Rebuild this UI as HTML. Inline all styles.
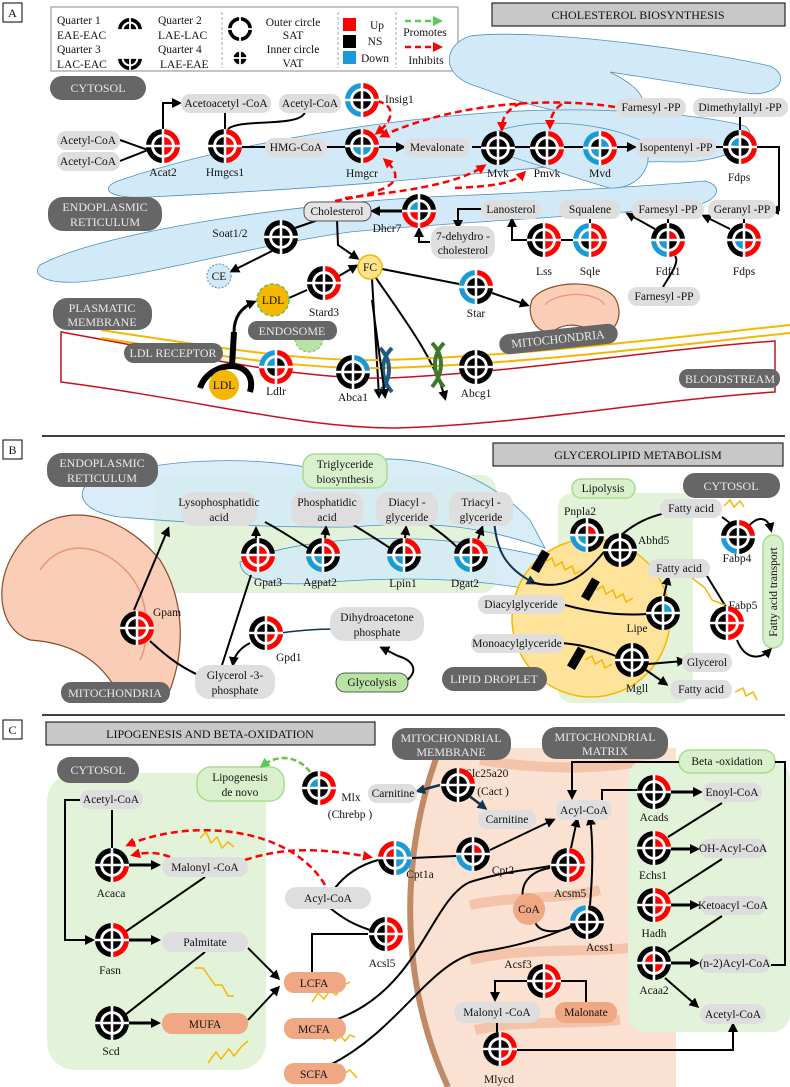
<!DOCTYPE html>
<html><head><meta charset="utf-8"><style>
body{margin:0;background:#fff}
svg{display:block}
text{font-family:"Liberation Serif",serif;font-size:11.5px;fill:#111}
.c{text-anchor:middle}
.d{fill:#eaeaea;font-size:12px;text-anchor:middle}
.p{fill:#dedede}
.dk{fill:#666}
.gp{fill:#d9f0cc;stroke:#a8dc8f;stroke-width:1.5}
.or{fill:#f0a884}
.ln{fill:none;stroke:#000;stroke-width:2}
.ar{marker-end:url(#a)}
.rd{fill:none;stroke:#f00;stroke-width:2.5;stroke-dasharray:7 4;marker-end:url(#ar)}
.zz{fill:none;stroke:#f5b800;stroke-width:1.5}
.er{fill:#d2eaf7;stroke:#4f8fc0;stroke-width:0.8}
</style></head><body>
<svg width="790" height="1087" viewBox="0 0 790 1087" xmlns="http://www.w3.org/2000/svg">
<defs>
<marker id="a" markerWidth="10" markerHeight="10" refX="7" refY="5" orient="auto" markerUnits="userSpaceOnUse"><path d="M0,0 L10,5 L0,10 Z" fill="#000"/></marker>
<marker id="ar" markerWidth="10" markerHeight="10" refX="7" refY="5" orient="auto" markerUnits="userSpaceOnUse"><path d="M0,0 L10,5 L0,10 Z" fill="#f00"/></marker>
<marker id="ag" markerWidth="10" markerHeight="10" refX="7" refY="5" orient="auto" markerUnits="userSpaceOnUse"><path d="M0,0 L10,5 L0,10 Z" fill="#5c5"/></marker>
<marker id="an" markerWidth="10" markerHeight="10" refX="7" refY="5" orient="auto" markerUnits="userSpaceOnUse"><path d="M0,0 L10,5 L0,10 Z" fill="#13344f"/></marker>
</defs>

<!-- ===== SECTION A ===== -->
<rect x="3" y="3" width="19" height="19" fill="#fff" stroke="#000"/><text x="12.5" y="17" class="c" style="font-size:12px">A</text>
<rect x="51" y="7" width="407" height="64" fill="#fff" stroke="#888"/>
<text x="57" y="24">Quarter 1</text><text x="57" y="39">EAE-EAC</text><text x="57" y="53">Quarter 3</text><text x="57" y="68">LAC-EAC</text>
<text x="158" y="24">Quarter 2</text><text x="158" y="39">LAE-LAC</text><text x="158" y="53">Quarter 4</text><text x="160" y="68">LAE-EAE</text>
<line x1="222" y1="12" x2="222" y2="68" stroke="#aaa" stroke-dasharray="3 2"/>
<text x="293" y="26" class="c">Outer circle</text><text x="293" y="39" class="c">SAT</text><text x="293" y="53" class="c">Inner circle</text><text x="293" y="67" class="c">VAT</text>
<line x1="338" y1="12" x2="338" y2="68" stroke="#aaa" stroke-dasharray="3 2"/>
<rect x="343" y="18" width="13" height="13" fill="#f00"/><rect x="343" y="35" width="13" height="13" fill="#000"/><rect x="343" y="51" width="13" height="13" fill="#1a9ad6"/>
<text x="377" y="29" class="c">Up</text><text x="375" y="45" class="c">NS</text><text x="375" y="62" class="c">Down</text>
<line x1="396" y1="12" x2="396" y2="68" stroke="#aaa" stroke-dasharray="3 2"/>
<path d="M405,21 L440,21" stroke="#5c5" stroke-width="2.5" stroke-dasharray="6 4" marker-end="url(#ag)" fill="none"/>
<text x="425" y="36" class="c">Promotes</text>
<path d="M405,47 L440,47" stroke="#f00" stroke-width="2.5" stroke-dasharray="6 4" marker-end="url(#ar)" fill="none"/>
<text x="426" y="64" class="c">Inhibits</text>
<rect x="492" y="3" width="293" height="23" fill="#c8c8c8" stroke="#000"/>
<text x="638" y="19" class="c" style="font-size:12px">CHOLESTEROL BIOSYNTHESIS</text>

<!-- ER shapes A -->
<path class="er" d="M470,36 C530,28 690,48 770,66 C792,76 778,98 745,93 L610,72 C650,92 655,112 615,116 C560,118 515,100 470,84 C440,72 445,44 470,36Z"/>
<path class="er" d="M115,182 C200,152 350,122 500,112 C600,106 700,114 745,126 C765,142 725,162 680,162 C600,160 520,170 450,176 C350,186 250,192 150,197 C110,199 100,190 115,182Z"/>
<path class="er" d="M40,265 C100,232 300,202 450,196 C550,192 650,186 705,181 C725,186 718,202 692,206 C600,216 450,222 350,232 C250,246 150,276 80,282 C42,284 32,274 40,265Z"/>
<path class="er" d="M500,130 C540,118 600,122 640,140 C660,160 640,190 610,188 C580,180 540,165 505,155 C490,148 490,135 500,130Z"/>

<rect x="50" y="76" width="96" height="24" rx="12" class="dk"/><text x="98" y="92" class="d">CYTOSOL</text>
<rect x="48" y="197" width="114" height="34" rx="15" class="dk"/><text x="105" y="211" class="d">ENDOPLASMIC</text><text x="105" y="226" class="d">RETICULUM</text>

<!-- A connectors -->
<path class="ln" d="M120,140 L148,150 M120,161 L148,150"/>
<path class="ln ar" d="M163,129 L163,103 L179,103"/>
<path class="ln" d="M225,129 L225,112 M305,112 C300,128 240,118 228,129"/>
<path class="ln" d="M242,147 L345,147"/>
<path class="ln ar" d="M379,147 L403,147"/>
<path class="ln ar" d="M472,147 L634,147"/>
<path class="ln" d="M716,147 L723,147 M740,117 L740,130"/>
<path class="ln ar" d="M757,147 L779,147 L779,210 L772,210"/>
<path class="ln" d="M744,219 L744,223 M668,219 L668,223 M590,219 L590,223 M573,240 L561,240"/>
<path class="ln ar" d="M730,229 L704,216"/>
<path class="ln ar" d="M655,229 L628,214"/>
<path class="ln" d="M663,287 C670,275 680,262 675,256"/>
<path class="ln ar" d="M527,240 L512,240 L512,220"/>
<path class="ln ar" d="M482,209 L458,209 L458,227"/>
<path class="ln ar" d="M430,242 L419,242 L419,230"/>
<path class="ln ar" d="M402,211 L373,211" style="stroke-width:3"/>
<path class="ln" d="M318,220 L295,228"/>
<path class="ln ar" d="M272,251 L232,271"/>
<path class="ln ar" d="M337,220 L338,245 L357,258"/>
<path class="ln ar" d="M339,276 L356,266"/>
<path class="ln" d="M289,298 L307,290"/>
<path class="ln" d="M382,269 L459,284"/>
<path class="ln ar" d="M492,293 L527,305"/>
<path class="ln ar" d="M372,279 L379,396"/>
<path class="ln ar" d="M376,278 C405,320 435,360 445,398"/>
<path class="rd" d="M377,101 C398,106 392,122 377,133"/>
<path class="rd" d="M615,107 C560,98 460,100 382,136"/>
<path class="rd" d="M521,103 C506,110 502,118 502,129"/>
<path class="rd" d="M562,104 C553,110 550,118 550,127"/>
<path class="rd" d="M335,201 C400,190 405,178 385,160"/>
<path class="rd" d="M345,198 C420,190 460,182 484,166"/>
<path class="rd" d="M455,188 C500,186 515,182 524,173"/>

<!-- A pills -->
<rect x="57" y="131" width="63" height="19" rx="9" class="p"/><text x="88" y="144" class="c">Acetyl-CoA</text>
<rect x="57" y="152" width="63" height="19" rx="9" class="p"/><text x="88" y="165" class="c">Acetyl-CoA</text>
<rect x="181" y="94" width="90" height="19" rx="9" class="p"/><text x="226" y="107" class="c">Acetoacetyl -CoA</text>
<rect x="279" y="94" width="62" height="19" rx="9" class="p"/><text x="310" y="107" class="c">Acetyl-CoA</text>
<rect x="265" y="138" width="62" height="19" rx="9" class="p"/><text x="296" y="151" class="c">HMG-CoA</text>
<rect x="404" y="138" width="66" height="19" rx="9" class="p"/><text x="437" y="151" class="c">Mevalonate</text>
<rect x="616" y="98" width="70" height="19" rx="9" class="p"/><text x="651" y="111" class="c">Farnesyl -PP</text>
<rect x="693" y="98" width="95" height="19" rx="9" class="p"/><text x="740" y="111" class="c">Dimethylallyl -PP</text>
<rect x="636" y="138" width="80" height="19" rx="9" class="p"/><text x="676" y="151" class="c">Isopentenyl -PP</text>
<rect x="304" y="202" width="67" height="19" rx="8" fill="#e4e4e4" stroke="#555"/><text x="337" y="215" class="c">Cholesterol</text>
<rect x="481" y="200" width="60" height="19" rx="9" class="p"/><text x="511" y="213" class="c">Lanosterol</text>
<rect x="559" y="200" width="62" height="19" rx="9" class="p"/><text x="590" y="213" class="c">Squalene</text>
<rect x="632" y="200" width="72" height="19" rx="9" class="p"/><text x="668" y="213" class="c">Farnesyl -PP</text>
<rect x="708" y="200" width="68" height="19" rx="9" class="p"/><text x="742" y="213" class="c">Geranyl -PP</text>
<rect x="431" y="226" width="64" height="33" rx="12" class="p"/><text x="463" y="240" class="c">7-dehydro -</text><text x="463" y="254" class="c">cholesterol</text>
<rect x="628" y="287" width="72" height="19" rx="9" class="p"/><text x="664" y="300" class="c">Farnesyl -PP</text>
<circle cx="219" cy="276" r="12" fill="#d2eaf7" stroke="#4f8fc0" stroke-dasharray="2 1.5"/><text x="219" y="280" class="c">CE</text>
<circle cx="370" cy="267" r="12" fill="#ffe48a" stroke="#f5b800" stroke-width="1.5"/><text x="370" y="271" class="c">FC</text>

<!-- Mitochondrion A -->
<path d="M532,300 C545,280 600,278 615,298 C625,315 615,335 600,332 C585,328 570,320 555,330 C540,338 525,318 532,300Z" fill="#f9cdb6" stroke="#8b4a2a" stroke-width="1.2"/>
<path d="M545,305 C555,292 595,290 605,305" fill="none" stroke="#e8957a" stroke-width="1.2"/>

<!-- Membrane -->
<path d="M61,332 C200,357 300,380 390,378 C520,372 650,350 775,341 L775,392 C650,400 520,425 395,428 C300,428 200,400 61,382 Z" fill="none" stroke="#c8101c" stroke-width="1.5"/>
<path d="M101,330 C200,345 300,362 385,360 C520,356 650,340 790,325" fill="none" stroke="#f5b800" stroke-width="2"/>
<path d="M101,338 C200,353 300,370 385,368 C520,364 650,348 790,333" fill="none" stroke="#f5b800" stroke-width="2"/>
<!-- channels -->
<path d="M380,348 C392,360 392,378 380,392 M392,348 C380,360 380,378 392,392" stroke="#1f5a80" stroke-width="4" fill="none"/>
<path d="M432,343 C444,355 444,373 432,387 M444,343 C432,355 432,373 444,387" stroke="#3b7a2a" stroke-width="4" fill="none"/>
<path class="ln ar" d="M372,300 L385,396"/>

<!-- LDL -->
<circle cx="309" cy="338" r="14" fill="#b8e3a4" stroke="#6cc04a" stroke-dasharray="3 2"/>
<circle cx="273" cy="300" r="16" fill="#f5b800" stroke="#6cc04a" stroke-width="1.5" stroke-dasharray="4 2"/><text x="273" y="304" class="c">LDL</text>
<path d="M200,388 C205,372 222,366 232,366 C242,366 255,374 250,392" fill="none" stroke="#000" stroke-width="6"/>
<path d="M232,366 L234,332" stroke="#000" stroke-width="6"/>
<path class="ln ar" d="M234,332 C234,318 240,308 254,302" style="stroke-width:3"/>
<circle cx="224" cy="385" r="15" fill="#f5b800"/><text x="224" y="389" class="c">LDL</text>

<rect x="53" y="298" width="99" height="32" rx="14" class="dk"/><text x="102" y="312" class="d">PLASMATIC</text><text x="102" y="326" class="d">MEMBRANE</text>
<rect x="248" y="321" width="89" height="19" rx="9" class="dk"/><text x="292" y="335" class="d">ENDOSOME</text>
<rect x="124" y="343" width="99" height="20" rx="10" class="dk"/><text x="173" y="357" class="d">LDL RECEPTOR</text>
<g transform="rotate(-6 558 339)"><rect x="499" y="329" width="119" height="20" rx="10" class="dk"/><text x="558" y="343" class="d">MITOCHONDRIA</text></g>
<rect x="679" y="369" width="101" height="19" rx="9" class="dk"/><text x="730" y="383" class="d">BLOODSTREAM</text>

<!-- A labels -->
<text x="163" y="176" class="c">Acat2</text><text x="225" y="176" class="c">Hmgcs1</text><text x="362" y="177" class="c">Hmgcr</text>
<text x="385" y="103">Insig1</text>
<text x="498" y="177" class="c">Mvk</text><text x="547" y="177" class="c">Pmvk</text><text x="600" y="177" class="c">Mvd</text><text x="739" y="181" class="c">Fdps</text>
<text x="387" y="232" class="c">Dhcr7</text><text x="230" y="237" class="c">Soat1/2</text>
<text x="544" y="275" class="c">Lss</text><text x="590" y="275" class="c">Sqle</text><text x="668" y="275" class="c">Fdft1</text><text x="744" y="275" class="c">Fdps</text>
<text x="324" y="316" class="c">Stard3</text><text x="476" y="317" class="c">Star</text>
<text x="276" y="395" class="c">Ldlr</text><text x="353" y="401" class="c">Abca1</text><text x="476" y="397" class="c">Abcg1</text>

<line x1="42" y1="436" x2="785" y2="436" stroke="#000" stroke-width="1.5"/>

<!-- ===== SECTION B ===== -->
<rect x="3" y="440" width="19" height="19" fill="#fff" stroke="#000"/><text x="12.5" y="454" class="c" style="font-size:12px">B</text>
<rect x="493" y="443" width="290" height="23" fill="#c8c8c8" stroke="#000"/>
<text x="638" y="459" class="c" style="font-size:12px">GLYCEROLIPID METABOLISM</text>
<rect x="154" y="475" width="342" height="118" rx="14" fill="#e3f3da"/>
<rect x="558" y="493" width="135" height="210" rx="14" fill="#e3f3da"/>
<path class="er" d="M90,482 C160,456 260,456 320,470 C380,448 470,456 530,520 L545,548 C470,522 420,522 350,527 C260,528 180,522 120,517 C80,512 75,492 90,482Z" style="fill-opacity:0.85"/>
<path class="er" d="M240,562 C300,537 420,527 545,557 L545,592 C470,577 400,577 330,582 C280,587 240,582 240,562Z" style="fill-opacity:0.85"/>
<path d="M10,560 C40,500 110,500 160,560 C185,600 185,650 170,690 C160,708 125,702 110,680 C90,652 60,642 30,640 C0,630 -5,590 10,560Z" fill="#f9cdb6" stroke="#8b4a2a" stroke-width="1.2"/>
<path d="M40,570 C60,540 100,540 130,575 C150,600 150,640 140,660" fill="none" stroke="#e8957a" stroke-width="1.5"/>
<circle cx="591" cy="618" r="79" fill="#ffe39a" stroke="#f5b800" stroke-width="1.5"/>

<rect x="47" y="453" width="111" height="34" rx="15" class="dk"/><text x="102" y="467" class="d">ENDOPLASMIC</text><text x="102" y="482" class="d">RETICULUM</text>
<rect x="303" y="454" width="84" height="34" rx="12" class="gp"/><text x="345" y="468" class="c">Triglyceride</text><text x="345" y="483" class="c">biosynthesis</text>
<rect x="572" y="479" width="63" height="19" rx="9" class="gp"/><text x="603" y="492" class="c">Lipolysis</text>
<rect x="683" y="473" width="97" height="25" rx="12" class="dk"/><text x="731" y="490" class="d">CYTOSOL</text>
<rect x="763" y="535" width="20" height="113" rx="10" class="gp"/><text transform="translate(777 592) rotate(-90)" class="c">Fatty acid transport</text>
<rect x="61" y="682" width="109" height="21" rx="10" class="dk"/><text x="115" y="697" class="d">MITOCHONDRIA</text>
<rect x="442" y="667" width="105" height="24" rx="12" class="dk"/><text x="494" y="683" class="d">LIPID DROPLET</text>

<!-- B connectors -->
<path class="ln ar" d="M134,610 L168,529"/>
<path class="ln" d="M212,680 C185,672 165,655 150,641"/>
<path class="ln" d="M222,665 L251,575"/>
<path class="ln ar" d="M256,538 L256,529"/>
<path class="ln" d="M265,522 C280,530 295,540 308,548"/>
<path class="ln ar" d="M325,538 L326,528"/>
<path class="ln" d="M352,524 C365,532 378,540 390,548"/>
<path class="ln ar" d="M405,538 L406,528"/>
<path class="ln" d="M428,524 C440,532 450,540 458,548"/>
<path class="ln ar" d="M478,539 L482,528"/>
<path class="ln ar" d="M250,643 C240,648 234,656 233,664"/>
<path d="M281,633 C300,630 330,628 344,630" fill="none" stroke="#13344f" stroke-width="1.5"/>
<path class="ln ar" d="M406,681 C420,670 412,660 398,656 L382,648"/>
<path d="M494,519 C496,550 505,568 534,583" fill="none" stroke="#13344f" stroke-width="2" marker-end="url(#an)"/>
<path class="ln ar" d="M531,582 C565,592 585,575 603,553 C625,528 645,516 672,512"/>
<path class="ln ar" d="M664,596 L668,578"/>
<path class="ln" d="M565,605 C590,612 620,616 647,614"/>
<path class="ln" d="M562,643 C585,645 600,650 616,656"/>
<path class="ln ar" d="M648,664 L684,661"/>
<path class="ln ar" d="M643,668 L666,684"/>
<path class="ln" d="M722,517 L730,523"/>
<path class="ln ar" d="M748,527 C758,515 768,517 771,530"/>
<path class="ln" d="M707,576 L726,607"/>
<path class="ln ar" d="M737,640 C745,660 760,660 770,650"/>
<g fill="#000"><rect x="536" y="550" width="9" height="22" transform="rotate(30 540 561)"/><rect x="586" y="578" width="9" height="22" transform="rotate(30 590 589)"/><rect x="572" y="647" width="9" height="22" transform="rotate(30 576 658)"/></g>
<polyline class="zz" points="545,562 552,558 555,566 562,562 565,570 572,566 575,574 582,570"/>
<polyline class="zz" points="596,590 603,586 606,594 613,590 616,598 623,594 626,602 633,598"/>
<polyline class="zz" points="585,660 592,656 595,664 602,660 605,668 612,664"/>
<polyline class="zz" points="724,506 730,500 734,507 740,501 744,507"/>
<polyline class="zz" points="692,578 705,588 712,600 725,605"/>
<polyline class="zz" points="735,692 743,688 746,696 753,692 757,700"/>

<!-- B pills -->
<rect x="181" y="492" width="76" height="34" rx="12" class="p"/><text x="219" y="506" class="c">Lysophosphatidic</text><text x="219" y="521" class="c">acid</text>
<rect x="291" y="492" width="72" height="34" rx="12" class="p"/><text x="327" y="506" class="c">Phosphatidic</text><text x="327" y="521" class="c">acid</text>
<rect x="376" y="492" width="62" height="34" rx="12" class="p"/><text x="407" y="506" class="c">Diacyl -</text><text x="407" y="521" class="c">glyceride</text>
<rect x="449" y="492" width="64" height="34" rx="12" class="p"/><text x="481" y="506" class="c">Triacyl -</text><text x="481" y="521" class="c">glyceride</text>
<rect x="330" y="607" width="94" height="34" rx="14" class="p"/><text x="377" y="621" class="c">Dihydroacetone</text><text x="377" y="636" class="c">phosphate</text>
<rect x="195" y="665" width="80" height="34" rx="14" class="p"/><text x="235" y="679" class="c">Glycerol -3-</text><text x="235" y="694" class="c">phosphate</text>
<rect x="336" y="673" width="72" height="19" rx="9" fill="#b8e3a4" stroke="#333" stroke-width="0.8"/><text x="372" y="686" class="c">Glycolysis</text>
<rect x="660" y="499" width="62" height="19" rx="9" class="p"/><text x="691" y="512" class="c">Fatty acid</text>
<rect x="648" y="559" width="62" height="19" rx="9" class="p"/><text x="679" y="572" class="c">Fatty acid</text>
<rect x="478" y="595" width="87" height="19" rx="9" class="p"/><text x="521" y="608" class="c">Diacylglyceride</text>
<rect x="471" y="634" width="93" height="19" rx="9" class="p"/><text x="517" y="647" class="c">Monoacylglyceride</text>
<rect x="682" y="653" width="50" height="19" rx="9" class="p"/><text x="707" y="666" class="c">Glycerol</text>
<rect x="670" y="680" width="62" height="19" rx="9" class="p"/><text x="701" y="693" class="c">Fatty acid</text>
<!-- B labels -->
<text x="153" y="616">Gpam</text><text x="276" y="661">Gpd1</text>
<text x="268" y="586" class="c">Gpat3</text><text x="320" y="586" class="c">Agpat2</text><text x="403" y="587" class="c">Lpin1</text><text x="465" y="587" class="c">Dgat2</text>
<text x="580" y="515" class="c">Pnpla2</text><text x="638" y="544">Abhd5</text><text x="637" y="632" class="c">Lipe</text><text x="637" y="692" class="c">Mgll</text>
<text x="737" y="562" class="c">Fabp4</text><text x="743" y="609" class="c">Fabp5</text>

<line x1="42" y1="715" x2="785" y2="715" stroke="#000" stroke-width="1.5"/>

<!-- ===== SECTION C ===== -->
<rect x="3" y="720" width="19" height="19" fill="#fff" stroke="#000"/><text x="12.5" y="734" class="c" style="font-size:12px">C</text>
<rect x="46" y="722" width="329" height="23" fill="#c8c8c8" stroke="#000"/>
<text x="210" y="738" class="c" style="font-size:12px">LIPOGENESIS AND BETA-OXIDATION</text>
<path d="M440,748 L676,748 L676,1087 L448,1087 C398,980 400,850 440,748Z" fill="#fbe1d2"/>
<path d="M440,748 C400,850 398,980 448,1087" fill="none" stroke="#c08a66" stroke-width="6"/>
<path d="M480,760 C540,770 600,770 650,760 M470,905 C520,895 560,900 600,890 M470,960 C530,945 600,955 650,945 M475,1030 C520,1020 560,1025 620,1020" fill="none" stroke="#f3c4aa" stroke-width="10"/>
<rect x="47" y="773" width="219" height="297" rx="28" fill="#e3f3da"/>
<rect x="628" y="760" width="162" height="272" rx="18" fill="#e3f3da"/>
<rect x="57" y="757" width="82" height="26" rx="13" class="dk"/><text x="98" y="774" class="d">CYTOSOL</text>
<rect x="197" y="767" width="87" height="34" rx="14" class="gp"/><text x="240" y="781" class="c">Lipogenesis</text><text x="240" y="796" class="c">de novo</text>
<rect x="392" y="728" width="119" height="32" rx="14" class="dk"/><text x="451" y="742" class="d">MITOCHONDRIAL</text><text x="451" y="756" class="d">MEMBRANE</text>
<rect x="542" y="727" width="126" height="32" rx="14" class="dk"/><text x="605" y="741" class="d">MITOCHONDRIAL</text><text x="605" y="755" class="d">MATRIX</text>
<rect x="679" y="750" width="96" height="23" rx="11" class="gp"/><text x="727" y="765" class="c">Beta -oxidation</text>

<!-- C connectors -->
<path class="ln ar" d="M82,800 L65,800 L65,940 L92,940"/>
<path class="ln" d="M112,810 L112,848"/>
<path class="ln ar" d="M129,865 L158,865" style="stroke-width:3"/>
<path class="ln" d="M205,877 L125,932"/>
<path class="ln ar" d="M129,940 L158,940" style="stroke-width:3"/>
<path class="ln" d="M205,952 L125,1015"/>
<path class="ln ar" d="M129,1023 L158,1023" style="stroke-width:3"/>
<path class="ln ar" d="M248,948 L278,978"/>
<path class="ln ar" d="M248,1020 L278,988"/>
<path class="ln" d="M312,972 L312,934 L368,934"/>
<path class="ln" d="M330,908 C345,920 355,925 370,930"/>
<path class="ln" d="M335,888 C345,875 360,865 378,860"/>
<path class="ln" d="M412,858 L456,856"/>
<path class="ln ar" d="M490,850 L553,820"/>
<path class="ln" d="M335,1020 C420,990 430,900 470,882 C510,870 530,870 550,866"/>
<path class="ln" d="M330,1065 C400,1030 430,960 480,952 C520,946 550,936 571,926"/>
<path class="ln" d="M523,898 C520,880 535,870 550,868 M535,922 C540,935 560,932 571,927"/>
<path class="ln ar" d="M571,848 L577,820"/>
<path class="ln ar" d="M590,905 C593,870 593,840 590,818"/>
<path class="ln ar" d="M527,981 L495,981 L495,999"/>
<path class="ln" d="M560,981 L586,981 L586,1003 M497,1022 L497,1033"/>
<path class="ln ar" d="M517,1050 L733,1050 L733,1025"/>
<path class="ln" d="M775,762 L785,762 L785,965 L771,965"/>
<path class="ln ar" d="M679,762 L572,762 L572,797"/>
<path class="ln" d="M602,800 L602,790 L637,790"/>
<path class="ln ar" d="M671,792 L700,792" style="stroke-width:3"/>
<path class="ln" d="M722,803 L668,837"/>
<path class="ln ar" d="M671,849 L697,849" style="stroke-width:3"/>
<path class="ln" d="M722,859 L668,894"/>
<path class="ln ar" d="M671,905 L697,905" style="stroke-width:3"/>
<path class="ln" d="M722,916 L668,952"/>
<path class="ln ar" d="M671,963 L697,963" style="stroke-width:3"/>
<path class="ln ar" d="M665,978 L697,1006"/>
<path class="rd" d="M245,860 C290,845 330,850 370,857"/>
<path class="rd" d="M325,885 C290,826 190,818 128,845"/>
<path class="rd" d="M170,857 C158,852 145,852 133,855"/>
<path d="M310,772 C300,758 280,752 262,766" fill="none" stroke="#6cc04a" stroke-width="2.5" stroke-dasharray="6 3" marker-end="url(#ag)"/>
<path d="M440,785 L418,791" stroke="#13344f" stroke-width="2.5" marker-end="url(#an)"/>
<path d="M468,795 L485,808" stroke="#13344f" stroke-width="2.5" marker-end="url(#an)"/>
<polyline class="zz" points="200,838 206,832 211,843 217,837 222,848 228,842 234,847"/>
<polyline class="zz" points="195,968 203,968 210,978 215,985 222,985 228,996 234,996"/>
<polyline class="zz" points="208,1063 216,1052 221,1059 229,1049 234,1056 242,1046 248,1041"/>
<polyline class="zz" points="312,1002 318,993 324,999 330,990 336,995 342,986 350,982"/>
<polyline class="zz" points="324,1040 330,1035 335,1041 340,1035 345,1041 350,1035 355,1037"/>
<polyline class="zz" points="345,1073 350,1070 357,1078"/>

<!-- C pills -->
<rect x="80" y="790" width="63" height="19" rx="9" class="p"/><text x="111" y="803" class="c">Acetyl-CoA</text>
<rect x="162" y="857" width="86" height="20" rx="10" class="p"/><text x="205" y="871" class="c">Malonyl -CoA</text>
<rect x="162" y="932" width="86" height="20" rx="10" class="p"/><text x="205" y="946" class="c">Palmitate</text>
<rect x="162" y="1013" width="86" height="21" rx="10" class="or"/><text x="205" y="1028" class="c">MUFA</text>
<rect x="284" y="972" width="62" height="21" rx="10" class="or"/><text x="314" y="987" class="c">LCFA</text>
<rect x="284" y="1018" width="62" height="21" rx="10" class="or"/><text x="314" y="1033" class="c">MCFA</text>
<rect x="284" y="1063" width="62" height="21" rx="10" class="or"/><text x="314" y="1078" class="c">SCFA</text>
<rect x="285" y="887" width="86" height="22" rx="11" class="p"/><text x="328" y="902" class="c">Acyl-CoA</text>
<rect x="368" y="784" width="49" height="19" rx="9" class="p"/><text x="393" y="797" class="c">Carnitine</text>
<rect x="478" y="810" width="58" height="19" rx="9" class="p"/><text x="507" y="823" class="c">Carnitine</text>
<rect x="556" y="800" width="56" height="20" rx="10" class="p"/><text x="584" y="814" class="c">Acyl-CoA</text>
<ellipse cx="529" cy="909" rx="16" ry="16" class="or"/><text x="529" y="913" class="c">CoA</text>
<rect x="454" y="1002" width="86" height="21" rx="10" class="p"/><text x="497" y="1016" class="c">Malonyl -CoA</text>
<rect x="555" y="1002" width="62" height="21" rx="10" class="or"/><text x="586" y="1016" class="c">Malonate</text>
<rect x="702" y="783" width="60" height="19" rx="9" class="p"/><text x="732" y="796" class="c">Enoyl-CoA</text>
<rect x="700" y="839" width="66" height="19" rx="9" class="p"/><text x="733" y="852" class="c">OH-Acyl-CoA</text>
<rect x="700" y="896" width="66" height="19" rx="9" class="p"/><text x="733" y="909" class="c">Ketoacyl -CoA</text>
<rect x="700" y="954" width="70" height="19" rx="9" class="p"/><text x="735" y="967" class="c">(n-2)Acyl-CoA</text>
<rect x="700" y="1004" width="66" height="20" rx="10" class="p"/><text x="733" y="1018" class="c">Acetyl-CoA</text>
<!-- C labels -->
<text x="111" y="897" class="c">Acaca</text><text x="110" y="974" class="c">Fasn</text><text x="111" y="1055" class="c">Scd</text>
<text x="351" y="801" class="c">Mlx</text><text x="350" y="818" class="c">(Chrebp )</text>
<text x="487" y="777" class="c">Slc25a20</text><text x="493" y="795" class="c">(Cact )</text>
<text x="420" y="878" class="c">Cpt1a</text><text x="503" y="874" class="c">Cpt2</text><text x="382" y="967" class="c">Acsl5</text>
<text x="570" y="897" class="c">Acsm5</text><text x="600" y="951" class="c">Acss1</text><text x="518" y="968" class="c">Acsf3</text><text x="499" y="1083" class="c">Mlycd</text>
<text x="654" y="821" class="c">Acads</text><text x="653" y="879" class="c">Echs1</text><text x="654" y="937" class="c">Hadh</text><text x="654" y="994" class="c">Acaa2</text>

<g id="gl"></g>
</svg>
<script>
(function(){
var col={K:'#000',R:'#f00',B:'#1a9ad6'};
var Q=[[-1,-1],[1,-1],[-1,1],[1,1]];
function G(x,y,c,R){
 R=R||17;var r=R*0.7,d=R*0.53,s='';
 c=c.replace(/ /g,'');
 s+='<circle cx="'+x+'" cy="'+y+'" r="'+R+'" fill="#fff"/>';
 for(var i=0;i<4;i++){var sx=Q[i][0],sy=Q[i][1],sw=(sx*sy>0)?1:0;
  var o=c[i],n=c[i+4];
  if(o!='W')s+='<path fill="'+col[o]+'" d="M'+(x+sx*R)+','+y+' A'+R+','+R+' 0 0 '+sw+' '+x+','+(y+sy*R)+' L'+x+','+(y+sy*r)+' A'+r+','+r+' 0 0 '+(1-sw)+' '+(x+sx*r)+','+y+' Z"/>';
  if(n!='W')s+='<path fill="'+col[n]+'" d="M'+x+','+y+' L'+(x+sx*d)+','+y+' A'+d+','+d+' 0 0 '+sw+' '+x+','+(y+sy*d)+' Z"/>';
 }
 var w=R*0.15;
 s+='<line x1="'+(x-R)+'" y1="'+y+'" x2="'+(x+R)+'" y2="'+y+'" stroke="#fff" stroke-width="'+w+'"/>';
 s+='<line x1="'+x+'" y1="'+(y-R)+'" x2="'+x+'" y2="'+(y+R)+'" stroke="#fff" stroke-width="'+w+'"/>';
 return s;
}
var L=[
[130,30,'KKWW KKWW',12],[130,58,'WWKK WWKK',12],[240,29,'KKKK WWWW',12],[240,58,'WWWW KKKK',12],
[163,146,'KRKR KRKR'],[225,146,'KRKR KRKR'],[362,146,'KRKR KKBB'],[362,100,'BRBR KKKK'],
[498,148,'KKKK KKKK'],[547,148,'KRKR KKKK'],[600,148,'BRBR KBBK'],[740,147,'KRKR BKKK'],
[419,211,'KKRR BKRK'],[281,237,'KKKK KKKK'],[544,240,'KRKR KRKR'],[590,240,'BRBR BRKR'],
[668,240,'KKBR KRBK'],[744,240,'KRKR KKBR'],[324,283,'KRKR KKKK'],[476,287,'BRBK KKKK'],
[276,367,'BRRR BKKR'],[353,372,'KBKK KKKK'],[476,367,'KKKK KKKK'],
[258,555,'KKRR KRRR'],[323,555,'KRBK KRBK'],[404,555,'KRBK KRBK'],[471,555,'KRBK KRBK'],
[137,628,'KRKR KRKR'],[266,633,'KRKR KKKR'],[587,535,'KKBK KRBK'],[620,550,'KKKK KKKK'],
[663,613,'KKKK KBKK'],[632,660,'KKKK KKKK'],[738,537,'KRBK KKKK'],[727,623,'KRKR KRKR'],
[319,788,'KRKR BKKK'],[458,785,'KRKK KKKK'],[112,865,'KKKR KKKK'],[112,940,'KRKR KKKK'],[112,1023,'KKKK KKKK'],
[395,858,'RBKB RBKB'],[473,854,'KKBK KRKK'],[568,865,'KRKR KKKR'],[587,922,'BKKK KKKK'],
[386,934,'KRKR KRKR'],[544,981,'KRKR KRKR'],[500,1049,'KRKR KKKR'],
[654,792,'KRKK KKKK'],[654,848,'KRKK KRKK'],[654,905,'KRKR KRKR'],[654,963,'KKKK RKKR']
];
var h='';for(var i=0;i<L.length;i++)h+=G(L[i][0],L[i][1],L[i][2],L[i][3]);
var g=document.getElementById('gl');
var tmp=document.createElementNS('http://www.w3.org/2000/svg','g');
g.innerHTML=h;
})();
</script>
</body></html>
